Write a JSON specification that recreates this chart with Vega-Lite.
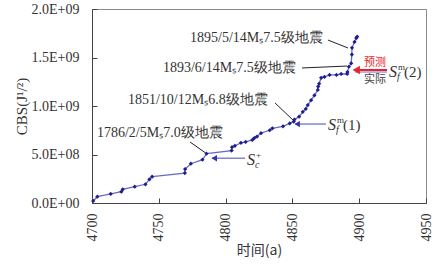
{
  "$schema": "https://vega.github.io/schema/vega-lite/v6.json",
  "width": 334,
  "height": 194,
  "autosize": {"type": "none"},
  "padding": {"left": 92, "top": 9, "right": 11, "bottom": 63},
  "background": "white",
  "config": {
    "view": {"stroke": "#8a8a8a", "strokeWidth": 1},
    "axis": {
      "domainColor": "#444",
      "tickColor": "#444",
      "labelFont": "Liberation Serif",
      "labelFontSize": 14,
      "labelColor": "#333",
      "titleColor": "#333",
      "grid": false
    }
  },
  "datasets": {
    "cbs": [
      {"x": 4700.9, "y": 21000000}, {"x": 4704, "y": 65000000}, {"x": 4714, "y": 93000000},
      {"x": 4722, "y": 117000000}, {"x": 4723, "y": 141000000}, {"x": 4732, "y": 168000000},
      {"x": 4740, "y": 193000000}, {"x": 4743, "y": 244000000}, {"x": 4745, "y": 271000000},
      {"x": 4769.5, "y": 308000000}, {"x": 4769.7, "y": 350000000}, {"x": 4774, "y": 405000000},
      {"x": 4782.7, "y": 446000000}, {"x": 4785.7, "y": 508000000}, {"x": 4804.5, "y": 540000000},
      {"x": 4804.8, "y": 575000000}, {"x": 4807, "y": 590000000}, {"x": 4811.5, "y": 620000000},
      {"x": 4815, "y": 630000000}, {"x": 4820, "y": 650000000}, {"x": 4821.5, "y": 670000000},
      {"x": 4823.5, "y": 685000000}, {"x": 4826.5, "y": 720000000}, {"x": 4833, "y": 750000000},
      {"x": 4835, "y": 770000000}, {"x": 4843, "y": 790000000}, {"x": 4848, "y": 820000000},
      {"x": 4851, "y": 840000000}, {"x": 4851.5, "y": 860000000}, {"x": 4855, "y": 890000000},
      {"x": 4857.8, "y": 940000000}, {"x": 4860, "y": 970000000}, {"x": 4861.5, "y": 1010000000},
      {"x": 4864, "y": 1060000000}, {"x": 4866.5, "y": 1110000000}, {"x": 4869, "y": 1165000000},
      {"x": 4869.3, "y": 1200000000}, {"x": 4870, "y": 1230000000}, {"x": 4871.5, "y": 1290000000},
      {"x": 4874, "y": 1300000000}, {"x": 4877.8, "y": 1320000000}, {"x": 4883, "y": 1320000000},
      {"x": 4886.5, "y": 1330000000}, {"x": 4891, "y": 1330000000}, {"x": 4891.2, "y": 1350000000},
      {"x": 4892.3, "y": 1405000000}, {"x": 4894, "y": 1440000000}, {"x": 4894.5, "y": 1530000000},
      {"x": 4894.6, "y": 1600000000}, {"x": 4896.5, "y": 1660000000}, {"x": 4897.8, "y": 1700000000},
      {"x": 4898.5, "y": 1715000000}
    ],
    "events": [
      {"x": 4773.4, "y": 1701000000, "label": "1895/5/14Mₛ7.5级地震", "x1": 4876.6, "y1": 1680000000, "x2": 4891.6, "y2": 1598000000},
      {"x": 4753.1, "y": 1392000000, "label": "1893/6/14Mₛ7.5级地震", "x1": 4857.2, "y1": 1392000000, "x2": 4890.9, "y2": 1412000000},
      {"x": 4726.9, "y": 1062000000, "label": "1851/10/12Mₛ6.8级地震", "x1": 4837.0, "y1": 1031000000, "x2": 4850.4, "y2": 856000000},
      {"x": 4703.7, "y": 722000000, "label": "1786/2/5Mₛ7.0级地震", "x1": 4773.4, "y1": 629000000, "x2": 4785.1, "y2": 515000000}
    ],
    "arrows": [
      {"x1": 4789.8, "x2": 4814.5, "y": 461000000, "tip": 4791.5, "lx": 4816, "ly": 443000000, "s": "S", "sub": "c", "sup": "+", "tail": ""},
      {"x1": 4852.0, "x2": 4875.1, "y": 814000000, "tip": 4853.6, "lx": 4876.6, "ly": 807000000, "s": "S", "sub": "f", "sup": "m", "tail": "(1)"}
    ],
    "pred": [
      {"x1": 4896.9, "x2": 4920.8, "y": 1371000000, "tip": 4897.8, "lx": 4922.3, "ly": 1351000000, "s": "S", "sub": "f", "sup": "m", "tail": "(2)", "tx": 4911.8, "ty1": 1443000000, "ty2": 1268000000, "t1": "预测", "t2": "实际"}
    ]
  },
  "layer": [
    {
      "data": {"name": "cbs"},
      "mark": {"type": "line", "color": "#6b6bc6", "strokeWidth": 1.3},
      "encoding": {
        "x": {"field": "x", "type": "quantitative", "title": "时间(a)", "scale": {"domain": [4700, 4950], "nice": false, "zero": false},
          "axis": {"values": [4700, 4750, 4800, 4850, 4900, 4950], "labelAngle": 270, "tickSize": -5, "labelPadding": 15, "format": "d",
            "titleFont": "Noto Sans CJK SC", "titleFontSize": 14, "titleFontWeight": "normal", "titlePadding": 2}},
        "y": {"field": "y", "type": "quantitative", "title": "CBS(J¹/²)", "scale": {"domain": [0, 2000000000], "nice": false},
          "axis": {"values": [0, 500000000, 1000000000, 1500000000, 2000000000], "tickSize": -5, "labelPadding": 18,
            "labelExpr": "datum.value == 0 ? '0.0E+00' : datum.value == 500000000 ? '5.0E+08' : datum.value == 1000000000 ? '1.0E+09' : datum.value == 1500000000 ? '1.5E+09' : '2.0E+09'",
            "titleFont": "Liberation Serif", "titleFontSize": 15, "titleFontWeight": "normal", "titlePadding": 2}}
      }
    },
    {
      "data": {"name": "cbs"},
      "mark": {"type": "point", "shape": "diamond", "filled": true, "color": "#1e1e8c", "size": 18, "opacity": 1},
      "encoding": {
        "x": {"field": "x", "type": "quantitative", "title": "时间(a)"},
        "y": {"field": "y", "type": "quantitative", "title": "CBS(J¹/²)"}
      }
    },
    {
      "data": {"name": "events"},
      "mark": {"type": "rule", "color": "#222", "strokeWidth": 1},
      "encoding": {
        "x": {"field": "x1", "type": "quantitative", "title": "时间(a)"},
        "y": {"field": "y1", "type": "quantitative", "title": "CBS(J¹/²)"},
        "x2": {"field": "x2"},
        "y2": {"field": "y2"}
      }
    },
    {
      "data": {"name": "events"},
      "mark": {"type": "text", "align": "left", "baseline": "middle", "font": "Liberation Serif", "fontSize": 14, "color": "#333"},
      "encoding": {
        "x": {"field": "x", "type": "quantitative", "title": "时间(a)"},
        "y": {"field": "y", "type": "quantitative", "title": "CBS(J¹/²)"},
        "text": {"field": "label"}
      }
    },
    {
      "data": {"name": "arrows"},
      "mark": {"type": "rule", "color": "#8484d4", "strokeWidth": 1.5},
      "encoding": {
        "x": {"field": "x1", "type": "quantitative", "title": "时间(a)"},
        "x2": {"field": "x2"},
        "y": {"field": "y", "type": "quantitative", "title": "CBS(J¹/²)"}
      }
    },
    {
      "data": {"name": "arrows"},
      "mark": {"type": "point", "shape": "triangle-left", "filled": true, "color": "#3434a8", "size": 40, "opacity": 1},
      "encoding": {
        "x": {"field": "tip", "type": "quantitative", "title": "时间(a)"},
        "y": {"field": "y", "type": "quantitative", "title": "CBS(J¹/²)"}
      }
    },
    {
      "data": {"name": "pred"},
      "mark": {"type": "rule", "color": "#8484d4", "strokeWidth": 1.2, "yOffset": 2},
      "encoding": {
        "x": {"field": "x1", "type": "quantitative", "title": "时间(a)"},
        "x2": {"field": "x2"},
        "y": {"field": "y", "type": "quantitative", "title": "CBS(J¹/²)"}
      }
    },
    {
      "data": {"name": "pred"},
      "mark": {"type": "rule", "color": "#e8232a", "strokeWidth": 2},
      "encoding": {
        "x": {"field": "x1", "type": "quantitative", "title": "时间(a)"},
        "x2": {"field": "x2"},
        "y": {"field": "y", "type": "quantitative", "title": "CBS(J¹/²)"}
      }
    },
    {
      "data": {"name": "pred"},
      "mark": {"type": "point", "shape": "triangle-left", "filled": true, "color": "#e8232a", "size": 70, "opacity": 1},
      "encoding": {
        "x": {"field": "tip", "type": "quantitative", "title": "时间(a)"},
        "y": {"field": "y", "type": "quantitative", "title": "CBS(J¹/²)"}
      }
    },
    {
      "data": {"name": "pred"},
      "mark": {"type": "text", "align": "center", "baseline": "middle", "font": "Noto Sans CJK SC", "fontSize": 11, "color": "#e8232a"},
      "encoding": {
        "x": {"field": "tx", "type": "quantitative", "title": "时间(a)"},
        "y": {"field": "ty1", "type": "quantitative", "title": "CBS(J¹/²)"},
        "text": {"field": "t1"}
      }
    },
    {
      "data": {"name": "pred"},
      "mark": {"type": "text", "align": "center", "baseline": "middle", "font": "Noto Sans CJK SC", "fontSize": 11, "color": "#444"},
      "encoding": {
        "x": {"field": "tx", "type": "quantitative", "title": "时间(a)"},
        "y": {"field": "ty2", "type": "quantitative", "title": "CBS(J¹/²)"},
        "text": {"field": "t2"}
      }
    },
    {
      "data": {"name": "arrows"},
      "layer": [
        {"mark": {"type": "text", "align": "left", "baseline": "middle", "font": "Liberation Serif", "fontStyle": "italic", "fontSize": 16, "color": "#333"},
         "encoding": {"text": {"field": "s"}}},
        {"mark": {"type": "text", "align": "left", "baseline": "middle", "font": "Liberation Serif", "fontStyle": "italic", "fontSize": 10, "color": "#333", "dx": 8, "dy": 5},
         "encoding": {"text": {"field": "sub"}}},
        {"mark": {"type": "text", "align": "left", "baseline": "middle", "font": "Liberation Serif", "fontSize": 9, "color": "#333", "dx": 9, "dy": -5},
         "encoding": {"text": {"field": "sup"}}},
        {"mark": {"type": "text", "align": "left", "baseline": "middle", "font": "Liberation Serif", "fontSize": 15, "color": "#333", "dx": 15},
         "encoding": {"text": {"field": "tail"}}}
      ],
      "encoding": {
        "x": {"field": "lx", "type": "quantitative", "title": "时间(a)"},
        "y": {"field": "ly", "type": "quantitative", "title": "CBS(J¹/²)"}
      }
    },
    {
      "data": {"name": "pred"},
      "layer": [
        {"mark": {"type": "text", "align": "left", "baseline": "middle", "font": "Liberation Serif", "fontStyle": "italic", "fontSize": 16, "color": "#333"},
         "encoding": {"text": {"field": "s"}}},
        {"mark": {"type": "text", "align": "left", "baseline": "middle", "font": "Liberation Serif", "fontStyle": "italic", "fontSize": 10, "color": "#333", "dx": 8, "dy": 5},
         "encoding": {"text": {"field": "sub"}}},
        {"mark": {"type": "text", "align": "left", "baseline": "middle", "font": "Liberation Serif", "fontSize": 9, "color": "#333", "dx": 9, "dy": -5},
         "encoding": {"text": {"field": "sup"}}},
        {"mark": {"type": "text", "align": "left", "baseline": "middle", "font": "Liberation Serif", "fontSize": 15, "color": "#333", "dx": 15},
         "encoding": {"text": {"field": "tail"}}}
      ],
      "encoding": {
        "x": {"field": "lx", "type": "quantitative", "title": "时间(a)"},
        "y": {"field": "ly", "type": "quantitative", "title": "CBS(J¹/²)"}
      }
    }
  ]
}
